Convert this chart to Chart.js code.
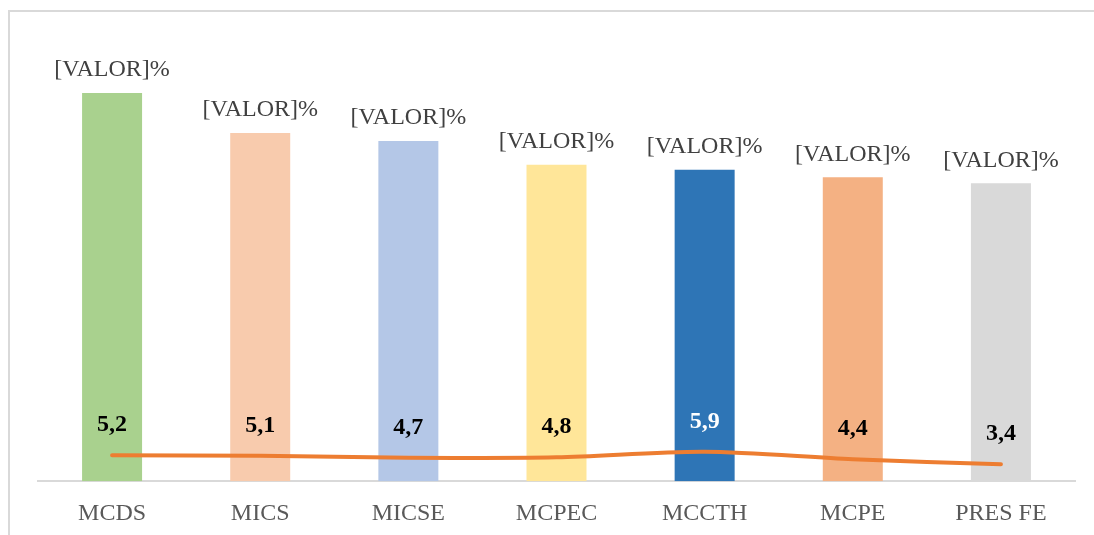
<!DOCTYPE html>
<html>
<head>
<meta charset="utf-8">
<script src="https://cdn.jsdelivr.net/npm/chart.js@4/dist/chart.umd.min.js"></script>
<style>
    html, body { margin: 0; padding: 0; background: #ffffff; }
    #wrap { position: relative; width: 1094px; height: 535px; overflow: hidden; }
    #frame {
        position: absolute; left: 8px; top: 10px; width: 1200px; height: 600px;
        border-left: 2px solid #d9d9d9; border-top: 2px solid #d9d9d9;
    }
    canvas { position: absolute; left: 0; top: 0; }
</style>
</head>
<body>
<div id="wrap">
    <div id="frame"></div>
    <canvas id="chart" width="1094" height="557"></canvas>
</div>
<script>
// Categories and values
const categories = ['MCDS', 'MICS', 'MICSE', 'MCPEC', 'MCCTH', 'MCPE', 'PRES FE'];
const barValues = [77.8, 69.8, 68.2, 63.4, 62.4, 60.9, 59.7];
const barLabels = ['[VALOR]%', '[VALOR]%', '[VALOR]%', '[VALOR]%', '[VALOR]%', '[VALOR]%', '[VALOR]%'];
const lineValues = [5.2, 5.1, 4.7, 4.8, 5.9, 4.4, 3.4];
const lineLabels = ['5,2', '5,1', '4,7', '4,8', '5,9', '4,4', '3,4'];
const barColors = ['#A9D18E', '#F8CBAD', '#B4C7E7', '#FFE699', '#2E75B6', '#F4B183', '#D9D9D9'];
const lineLabelColors = ['#000000', '#000000', '#000000', '#000000', '#ffffff', '#000000', '#000000'];

const serif = '"Liberation Serif", "Times New Roman", serif';

// Draws the value labels above bars and above the line
const labelPlugin = {
    id: 'labels',
    afterDatasetsDraw(chart) {
        const ctx = chart.ctx;
        ctx.save();
        ctx.textAlign = 'center';
        ctx.textBaseline = 'middle';

        const bars = chart.getDatasetMeta(0).data;
        ctx.font = '24px ' + serif;
        ctx.fillStyle = '#404040';
        bars.forEach((bar, i) => {
            ctx.fillText(barLabels[i], bar.x, bar.y - 23);
        });

        const points = chart.getDatasetMeta(1).data;
        ctx.font = 'bold 24px ' + serif;
        points.forEach((pt, i) => {
            ctx.fillStyle = lineLabelColors[i];
            ctx.fillText(lineLabels[i], pt.x, pt.y - 30);
        });
        ctx.restore();
    }
};

new Chart(document.getElementById('chart'), {
    data: {
        labels: categories,
        datasets: [
            {
                type: 'bar',
                data: barValues,
                backgroundColor: barColors,
                barPercentage: 0.405,
                categoryPercentage: 1,
                order: 2
            },
            {
                type: 'line',
                data: lineValues,
                borderColor: '#ED7D31',
                borderWidth: 4,
                borderCapStyle: 'round',
                tension: 0.3,
                pointRadius: 0,
                fill: false,
                order: 1
            }
        ]
    },
    options: {
        responsive: false,
        animation: false,
        layout: {
            padding: { left: 38, right: 19, top: 82, bottom: 11 }
        },
        plugins: {
            legend: { display: false },
            tooltip: { enabled: false }
        },
        scales: {
            x: {
                grid: { display: false, drawTicks: false },
                border: { display: true, color: '#d9d9d9', width: 2 },
                ticks: {
                    color: '#595959',
                    font: { family: serif, size: 24 },
                    padding: 18
                }
            },
            y: {
                display: false,
                min: 0,
                max: 80
            }
        }
    },
    plugins: [labelPlugin]
});
</script>
</body>
</html>
